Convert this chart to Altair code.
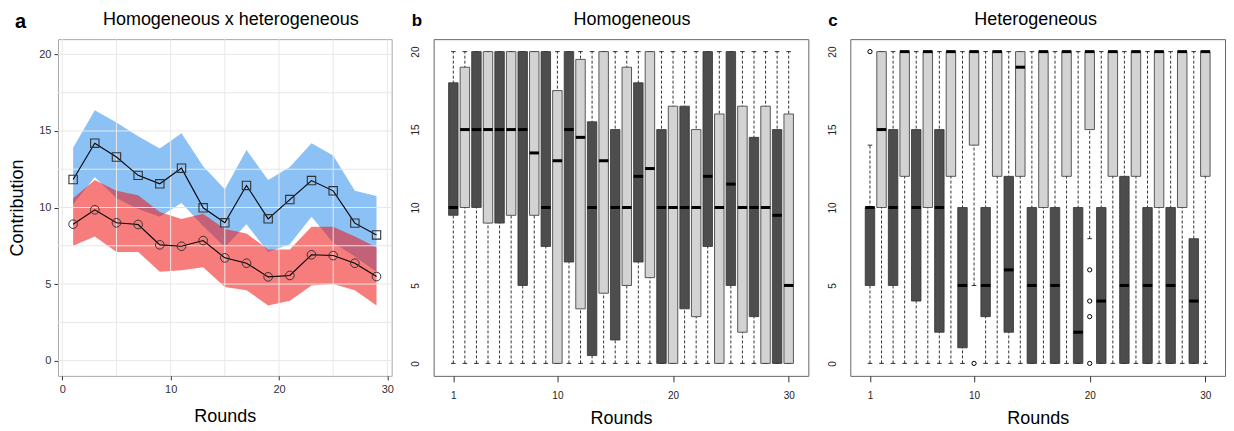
import altair as alt
import pandas as pd

FONT = "Liberation Sans"

# ---------------- panel a data ----------------
rounds_a = [1, 3, 5, 7, 9, 11, 13, 15, 17, 19, 21, 23, 25, 27, 29]
homo_mean = [11.83, 14.2, 13.3, 12.1, 11.55, 12.57, 9.98, 9.0, 11.44, 9.26, 10.52, 11.76, 11.09, 8.98, 8.21]
homo_upper = [13.9, 16.35, 15.55, 14.65, 13.85, 14.85, 12.7, 11.2, 13.75, 11.8, 12.65, 14.2, 13.4, 11.1, 10.75]
homo_lower = [10.2, 12.0, 10.6, 9.9, 9.4, 10.3, 8.8, 7.4, 8.9, 7.1, 7.6, 9.4, 7.7, 6.8, 5.8]
hetero_mean = [8.91, 9.85, 9.0, 8.89, 7.56, 7.47, 7.84, 6.71, 6.36, 5.47, 5.56, 6.91, 6.86, 6.36, 5.49]
hetero_upper = [10.6, 11.8, 11.1, 10.8, 9.7, 9.25, 9.6, 8.6, 8.3, 7.25, 7.25, 8.75, 8.75, 8.1, 7.4]
hetero_lower = [7.5, 8.1, 7.1, 7.1, 5.8, 5.9, 6.1, 4.8, 4.6, 3.6, 3.9, 4.9, 5.0, 4.6, 3.6]

grid_y_a = [0, 2.5, 5, 7.5, 10, 12.5, 15, 17.5, 20]
grid_x_a = [0, 5, 10, 15, 20, 25, 30]

# ---------------- panel b data (Homogeneous) ----------------
rounds = list(range(1, 31))
b_lo = [9.5, 10, 10, 9, 9, 9.5, 5, 9.5, 7.5, 0, 6.5, 3.5, 0.5, 4.5, 1.5,
        5, 6.5, 5.5, 0, 0, 3.5, 3, 7.5, 0, 5, 2, 3, 0, 0, 0]
b_hi = [18, 19, 20, 20, 20, 20, 20, 20, 20, 17.5, 20, 19.5, 15.5, 20, 15,
        19, 18, 20, 15, 16.5, 16.5, 15, 20, 16, 20, 16.5, 14.5, 16.5, 15, 16]
b_med = [10, 15, 15, 15, 15, 15, 15, 13.5, 10, 13, 15, 14.5, 10, 13, 10,
         10, 12, 12.5, 10, 10, 10, 10, 12, 10, 11.5, 10, 10, 10, 9.5, 5]
b_wlo = [0] * 30
b_whi = [20] * 30

# ---------------- panel c data (Heterogeneous) ----------------
c_lo = [5, 10, 5, 12, 4, 10, 2, 12, 1, 14, 3, 12, 2, 12, 0,
        10, 0, 12, 0, 15, 0, 12, 0, 12, 0, 10, 0, 10, 0, 12]
c_hi = [10, 20, 15, 20, 15, 20, 15, 20, 10, 20, 10, 20, 12, 20, 10,
        20, 10, 20, 10, 20, 10, 20, 12, 20, 10, 20, 10, 20, 8, 20]
c_med = [10, 15, 10, 20, 10, 20, 10, 20, 5, 20, 5, 20, 6, 19, 5,
         20, 5, 20, 2, 20, 4, 20, 5, 20, 5, 20, 5, 20, 4, 20]
c_wlo = [0, 0, 0, 0, 0, 0, 0, 0, 0, 5, 0, 0, 0, 0, 0,
         0, 0, 0, 0, 8, 0, 0, 0, 0, 0, 0, 0, 0, 0, 0]
c_whi = [14, 20, 20, 20, 20, 20, 20, 20, 20, 20, 20, 20, 20, 20, 20,
         20, 20, 20, 20, 20, 20, 20, 20, 20, 20, 20, 20, 20, 20, 20]
c_out_round = [1, 10, 20, 20, 20, 20]
c_out_value = [20, 0, 6, 4, 3, 0]

W_A, W_BOX, H = 334, 375, 337


def header(letter, letter_size, letter_x, letter_y, title, title_x):
    lt = alt.Chart(pd.DataFrame({"t": [letter]})).mark_text(
        fontSize=letter_size, fontWeight="bold", align="left", baseline="alphabetic",
        font=FONT, color="#000000").encode(text="t:N", x=alt.value(letter_x), y=alt.value(letter_y))
    tt = alt.Chart(pd.DataFrame({"t": [title]})).mark_text(
        fontSize=18, fontWeight="normal", align="center", baseline="alphabetic",
        font=FONT, color="#000000").encode(text="t:N", x=alt.value(title_x), y=alt.value(-14))
    return [lt, tt]


# ---------------- panel a ----------------
df_a = pd.DataFrame({
    "round": rounds_a, "hm": homo_mean, "hu": homo_upper, "hl": homo_lower,
    "em": hetero_mean, "eu": hetero_upper, "el": hetero_lower,
})
xs_a = alt.Scale(domain=[-0.4, 30.4], nice=False, zero=False)
ys_a = alt.Scale(domain=[-1, 21], nice=False, zero=False)

x_axis_a = alt.Axis(values=[0, 10, 20, 30], grid=False, domain=False, tickSize=4,
                    tickColor="#333333", labelColor="#333333", labelFontSize=11,
                    labelPadding=4, title="Rounds", titleFontSize=18,
                    titleFontWeight="normal", titlePadding=13, titleColor="#000000")
y_axis_a = alt.Axis(values=[0, 5, 10, 15, 20], grid=False, domain=False, tickSize=4,
                    tickColor="#333333", labelColor="#333333", labelFontSize=11,
                    labelPadding=3, title="Contribution", titleFontSize=18,
                    titleFontWeight="normal", titlePadding=12, titleColor="#000000")

base_a = alt.Chart(df_a)
blue_band = base_a.mark_area(color="#8cc1f5", opacity=1, interpolate="linear").encode(
    x=alt.X("round:Q", scale=xs_a, axis=x_axis_a),
    y=alt.Y("hl:Q", scale=ys_a, axis=y_axis_a),
    y2="hu:Q",
)
red_band = base_a.mark_area(color="#f01212", opacity=0.55, interpolate="linear").encode(
    x=alt.X("round:Q", scale=xs_a), y=alt.Y("el:Q", scale=ys_a), y2="eu:Q",
)
gy = alt.Chart(pd.DataFrame({"g": grid_y_a})).mark_rule(color="#e8e8e8", strokeWidth=1).encode(
    y=alt.Y("g:Q", scale=ys_a))
gx = alt.Chart(pd.DataFrame({"g": grid_x_a})).mark_rule(color="#e8e8e8", strokeWidth=1).encode(
    x=alt.X("g:Q", scale=xs_a))
line_h = base_a.mark_line(color="#000000", strokeWidth=1.1).encode(
    x=alt.X("round:Q", scale=xs_a), y=alt.Y("hm:Q", scale=ys_a))
line_e = base_a.mark_line(color="#000000", strokeWidth=1.1).encode(
    x=alt.X("round:Q", scale=xs_a), y=alt.Y("em:Q", scale=ys_a))
pts_h = base_a.mark_point(shape="square", filled=False, color="#333333", size=70,
                          strokeWidth=1.1, opacity=1).encode(
    x=alt.X("round:Q", scale=xs_a), y=alt.Y("hm:Q", scale=ys_a))
pts_e = base_a.mark_point(shape="circle", filled=False, color="#333333", size=75,
                          strokeWidth=1.0, opacity=1).encode(
    x=alt.X("round:Q", scale=xs_a), y=alt.Y("em:Q", scale=ys_a))

panel_a = alt.layer(
    blue_band, red_band, gy, gx, line_h, line_e, pts_h, pts_e,
    *header("a", 20, -43, -11, "Homogeneous x heterogeneous", W_A / 2 + 6),
).properties(
    width=W_A, height=H,
    view=alt.ViewBackground(stroke="#a8a8a8", strokeWidth=1),
)


# ---------------- box panels ----------------
def box_panel(lo, hi, med, wlo, whi, title, letter, dx, out_r=None, out_v=None):
    df = pd.DataFrame({"round": rounds, "lo": lo, "hi": hi, "med": med,
                       "wlo": wlo, "whi": whi,
                       "shade": ["dark" if r % 2 == 1 else "light" for r in rounds]})
    xs = alt.Scale(domain=[-0.7, 31.7], nice=False, zero=False)
    ys = alt.Scale(domain=[-0.8, 20.8], nice=False, zero=False)
    x_axis = alt.Axis(values=[1, 10, 20, 30], grid=False, domain=False, tickSize=6,
                      tickColor="#333333", labelColor="#222222", labelFontSize=10,
                      labelPadding=9, title="Rounds", titleFontSize=18,
                      titleFontWeight="normal", titlePadding=9, titleColor="#000000")
    y_axis = alt.Axis(values=[0, 5, 10, 15, 20], grid=False, domain=False, ticks=False,
                      labelColor="#222222", labelFontSize=10, labelAngle=270,
                      labelAlign="center", labelBaseline="bottom", labelPadding=13,
                      title=None)
    base = alt.Chart(df).transform_calculate(
        bl="datum.round - 0.41", br="datum.round + 0.41",
        cl="datum.round - 0.2", cr="datum.round + 0.2",
    )
    whisk = base.mark_rule(color="#000000", strokeWidth=0.8, strokeDash=[3, 2]).encode(
        x=alt.X("round:Q", scale=xs, axis=x_axis),
        y=alt.Y("wlo:Q", scale=ys, axis=y_axis), y2="whi:Q")
    cap_lo = base.mark_rule(color="#000000", strokeWidth=0.8).encode(
        x=alt.X("cl:Q", scale=xs), x2="cr:Q", y=alt.Y("wlo:Q", scale=ys))
    cap_hi = base.mark_rule(color="#000000", strokeWidth=0.8).encode(
        x=alt.X("cl:Q", scale=xs), x2="cr:Q", y=alt.Y("whi:Q", scale=ys))
    boxes = base.mark_rect(stroke="#333333", strokeWidth=0.8).encode(
        x=alt.X("bl:Q", scale=xs), x2="br:Q",
        y=alt.Y("lo:Q", scale=ys), y2="hi:Q",
        fill=alt.Fill("shade:N", scale=alt.Scale(domain=["dark", "light"],
                                                 range=["#4d4d4d", "#d3d3d3"]), legend=None))
    meds = base.mark_rule(color="#000000", strokeWidth=3).encode(
        x=alt.X("bl:Q", scale=xs), x2="br:Q", y=alt.Y("med:Q", scale=ys))
    layers = [whisk, cap_lo, cap_hi, boxes, meds]
    if out_r:
        dfo = pd.DataFrame({"round": out_r, "v": out_v})
        outs = alt.Chart(dfo).mark_point(shape="circle", filled=False, color="#000000",
                                         size=18, strokeWidth=1, opacity=1).encode(
            x=alt.X("round:Q", scale=xs), y=alt.Y("v:Q", scale=ys))
        layers.append(outs)
    layers += header(letter, 17, -22, -13, title, W_BOX / 2 + dx)
    return alt.layer(*layers).properties(
        width=W_BOX, height=H,
        view=alt.ViewBackground(stroke="#666666", strokeWidth=1),
    )


panel_b = box_panel(b_lo, b_hi, b_med, b_wlo, b_whi, "Homogeneous", "b", 11)
panel_c = box_panel(c_lo, c_hi, c_med, c_wlo, c_whi, "Heterogeneous", "c", -2,
                    c_out_round, c_out_value)

chart = alt.hconcat(panel_a, panel_b, panel_c, spacing=42, bounds="flush").properties(
    padding={"left": 0, "top": 2, "right": 0, "bottom": 0},
).configure(font=FONT).configure_axis(labelFont=FONT, titleFont=FONT)

chart.save("out.html", embed_options={"renderer": "svg", "actions": False})
